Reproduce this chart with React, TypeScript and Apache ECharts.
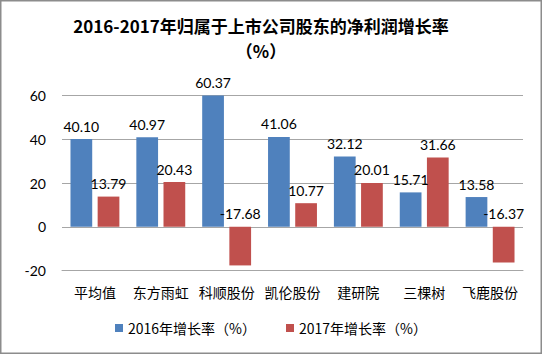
import React, { useEffect, useRef } from "react";
import * as echarts from "echarts";

const categories = ["平均值", "东方雨虹", "科顺股份", "凯伦股份", "建研院", "三棵树", "飞鹿股份"];
const growth2016 = [40.1, 40.97, 60.37, 41.06, 32.12, 15.71, 13.58];
const growth2017 = [13.79, 20.43, -17.68, 10.77, 20.01, 31.66, -16.37];
const seriesNames = ["2016年增长率（%）", "2017年增长率（%）"];
const titleLines = ["2016-2017年归属于上市公司股东的净利润增长率", "（%）"];

const FONT = "'Noto Sans CJK SC', 'Noto Sans', sans-serif";
const LABEL_FONT = "Lato, 'Noto Sans CJK SC', sans-serif";

export default function App() {
  const ref = useRef<HTMLDivElement>(null);
  useEffect(() => {
    document.body.style.margin = "0";
    if (!ref.current) return;
    const chart = echarts.init(ref.current, undefined, { renderer: "svg" });
    const label = {
      show: true,
      position: "top" as const,
      distance: 6,
      color: "#000",
      fontSize: 14,
      fontFamily: LABEL_FONT,
      formatter: (p: any) => Number(p.value).toFixed(2),
    };
    chart.setOption({
      animation: false,
      backgroundColor: "#fff",
      graphic: [
        {
          type: "text",
          x: 261,
          y: 25,
          style: {
            text: titleLines[0],
            font: `bold 17px ${FONT}`,
            fill: "#000",
            textAlign: "center",
            textVerticalAlign: "middle",
          },
        },
        {
          type: "text",
          x: 261,
          y: 50,
          style: {
            text: titleLines[1],
            font: `bold 17px ${FONT}`,
            fill: "#000",
            textAlign: "center",
            textVerticalAlign: "middle",
          },
        },
        {
          type: "rect",
          shape: { x: 0.75, y: 0.75, width: 540.5, height: 352.5 },
          style: { fill: "none", stroke: "#8c8c8c", lineWidth: 1.5 },
          z: 100,
        },
      ],
      grid: { left: 62, right: 19, top: 95.5, bottom: 83.5 },
      legend: {
        bottom: 14,
        left: "center",
        icon: "rect",
        itemWidth: 8,
        itemHeight: 8,
        itemGap: 30,
        textStyle: { fontSize: 14, color: "#000", fontFamily: FONT },
        data: seriesNames,
      },
      xAxis: {
        type: "category",
        data: categories,
        axisLine: { onZero: false, lineStyle: { color: "#a6a6a6" } },
        axisTick: { show: false },
        axisLabel: { color: "#000", fontSize: 14, fontFamily: FONT, margin: 14, interval: 0 },
      },
      yAxis: {
        type: "value",
        min: -20,
        max: 60,
        interval: 20,
        axisLine: { show: false },
        axisTick: { show: false },
        splitLine: { lineStyle: { color: "#a6a6a6" } },
        axisLabel: { color: "#000", fontSize: 14, fontFamily: LABEL_FONT, margin: 16 },
      },
      series: [
        {
          name: seriesNames[0],
          type: "bar",
          data: growth2016,
          barWidth: "33%",
          barGap: "25%",
          itemStyle: { color: "#4F81BD" },
          label,
        },
        {
          name: seriesNames[1],
          type: "bar",
          data: growth2017,
          barWidth: "33%",
          barGap: "25%",
          itemStyle: { color: "#C0504D" },
          label,
        },
      ],
    });
    return () => chart.dispose();
  }, []);
  return <div ref={ref} style={{ width: 542, height: 354 }} />;
}
